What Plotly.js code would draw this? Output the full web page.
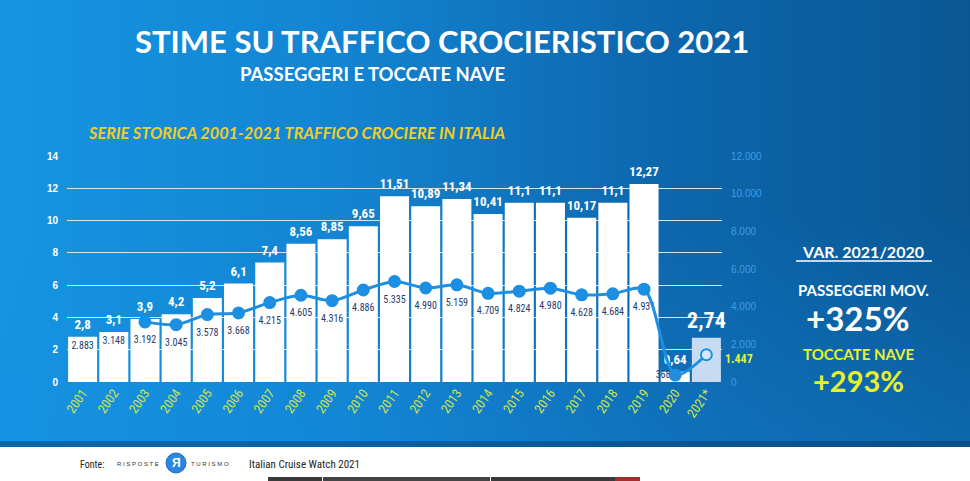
<!DOCTYPE html>
<html><head><meta charset="utf-8">
<script src="https://cdn.plot.ly/plotly-3.0.1.min.js"></script>
<style>
html,body{margin:0;padding:0;width:970px;height:481px;overflow:hidden;}
#chart{width:970px;height:481px;background:linear-gradient(to bottom,rgba(20,140,225,0) 45%,rgba(20,140,225,0.35) 100%),linear-gradient(to right,#1595e2 0%,#1384d2 35%,#0d67ad 68%,#0a5794 100%);}
</style></head>
<body><div id="chart"></div>
<script>
const years = ['2001','2002','2003','2004','2005','2006','2007','2008','2009','2010','2011','2012','2013','2014','2015','2016','2017','2018','2019','2020','2021*'];
const passengers = [2.8,3.1,3.9,4.2,5.2,6.1,7.4,8.56,8.85,9.65,11.51,10.89,11.34,10.41,11.1,11.1,10.17,11.1,12.27,0.64,2.74];
const ships = [2883,3148,3192,3045,3578,3668,4215,4605,4316,4886,5335,4990,5159,4709,4824,4980,4628,4684,4931,368,1447];
const leftTicks = [0,2,4,6,8,10,12,14];
const rightTicks = [0,2000,4000,6000,8000,10000,12000];

const L=67, R=722, T=156, B=382;
const px = x => (x-L)/(R-L);
const py = y => (B-y)/(B-T);
const n = years.length;
const NARROW = '"Liberation Sans Narrow","Arial Narrow","Roboto Condensed",Arial,sans-serif';
const HEAD = 'Lato,"Open Sans",sans-serif';
const lineBlue = '#1c8fe2';
const firstLine = 2; // line and markers visible from 2003 on (earlier part blends with the background)
const noLine = {width:0, color:'rgba(0,0,0,0)'};
const fmtThousands = v => String(v).replace(/\B(?=(\d{3})+(?!\d))/g, '.');

const barColors = years.map((y,i)=> i===n-1 ? '#c7dcf3' : '#ffffff');

const traces = [
  {type:'bar', x:years, y:passengers, marker:{color:barColors, line:{width:0}}, hoverinfo:'skip', yaxis:'y'},
  {type:'scatter', mode:'markers+text', x:years.slice(0,n-1), y:ships.slice(0,n-1), yaxis:'y2',
   texttemplate:'%{y:,}',
   textposition:years.slice(0,n-1).map((y,i)=> i===n-2 ? 'middle left' : 'bottom center'),
   marker:{size:years.slice(0,n-1).map((y,i)=> i===n-2 ? 6 : 20), color:'rgba(0,0,0,0)', line:noLine},
   textfont:{family:NARROW, size:10, color:'#27396b'}, cliponaxis:false, hoverinfo:'skip'},
  {type:'scatter', mode:'lines+markers', x:years.slice(firstLine), y:ships.slice(firstLine), yaxis:'y2', line:{shape:'spline', smoothing:0.8, color:lineBlue, width:3},
   marker:{size:11, color:years.slice(firstLine).map((y,i,a)=> i===a.length-1 ? '#d6e6f8' : lineBlue), line:{color:lineBlue, width:2}}, cliponaxis:false, hoverinfo:'skip'},
  {type:'scatter', mode:'markers+text', x:years, y:passengers, yaxis:'y', texttemplate:'%{y:.2~f}', textposition:'top center',
   marker:{size:6, color:'rgba(0,0,0,0)', line:noLine},
   textfont:{family:NARROW, size:years.map((y,i)=> i===n-1 ? 22 : 13), color:'#ffffff', weight:'bold'}, cliponaxis:false, hoverinfo:'skip'}
];

const ann = (x,y,text,size,color,extra={}) => Object.assign({xref:'paper', yref:'paper', x:px(x), y:py(y), text:text, showarrow:false,
  font:{family:HEAD, size:size, color:color, weight:'bold'}, xanchor:'center', yanchor:'middle'}, extra);

const layout = {
  width:970, height:481, margin:{l:L, r:970-R, t:T, b:481-B},
  paper_bgcolor:'rgba(0,0,0,0)', plot_bgcolor:'rgba(0,0,0,0)',
  separators:',.', showlegend:false, bargap:0.07,
  xaxis:{type:'category', range:[-0.5, n-0.5], tickangle:-55, tickfont:{family:NARROW, size:13, color:'#cfe44c'}, showgrid:false, zeroline:false, showline:false, ticks:''},
  yaxis:{range:[0,14], tickvals:leftTicks, gridcolor:'rgba(215,238,255,0.95)', gridwidth:1, zeroline:false, showline:false,
         tickfont:{family:'Arial,sans-serif', size:10, color:'#ffffff', weight:'bold'}, ticklabelstandoff:8},
  yaxis2:{range:[0,12000], tickvals:rightTicks, tickformat:',', overlaying:'y', side:'right', showgrid:false, zeroline:false, showline:false,
          tickfont:{family:'Arial,sans-serif', size:10, color:'#3c9ee6'}, ticklabelstandoff:8},
  shapes:[
    {type:'rect', xref:'paper', yref:'paper', x0:px(0), x1:px(970), y0:py(441), y1:py(447), line:{width:0}, fillcolor:'rgba(5,50,100,0.45)', layer:'below'},
    {type:'rect', xref:'paper', yref:'paper', x0:px(0), x1:px(970), y0:py(447), y1:py(482), line:{width:0}, fillcolor:'#ffffff'},
    {type:'line', xref:'paper', yref:'paper', x0:px(796), x1:px(932), y0:py(261), y1:py(261), line:{color:'#ffffff', width:1.5}},
    {type:'circle', xref:'paper', yref:'paper', x0:px(166), x1:px(186), y0:py(453), y1:py(473), line:{color:'#1b6fc4', width:1}, fillcolor:'#2a86de'},
    {type:'rect', xref:'paper', yref:'paper', x0:px(268), x1:px(322), y0:py(477), y1:py(482), line:{width:0}, fillcolor:'#3a3a3a'},
    {type:'rect', xref:'paper', yref:'paper', x0:px(323), x1:px(490), y0:py(477), y1:py(482), line:{width:0}, fillcolor:'#444444'},
    {type:'rect', xref:'paper', yref:'paper', x0:px(491), x1:px(615), y0:py(477), y1:py(482), line:{width:0}, fillcolor:'#3a3a3a'},
    {type:'rect', xref:'paper', yref:'paper', x0:px(615), x1:px(640), y0:py(477), y1:py(482), line:{width:0}, fillcolor:'#a0302c'}
  ],
  annotations:[
    {xref:'x', yref:'y2', x:years[n-1], y:ships[n-1], text:fmtThousands(ships[n-1]), showarrow:false, xanchor:'left', yanchor:'middle',
     xshift:17, yshift:-4, font:{family:NARROW, size:12, color:'#dff23a', weight:'bold'}},
    ann(442,41,'STIME SU TRAFFICO CROCIERISTICO 2021',31,'#ffffff'),
    ann(372,74,'PASSEGGERI E TOCCATE NAVE',18.5,'#ffffff'),
    ann(86,132,'<i>SERIE STORICA 2001-2021 TRAFFICO CROCIERE IN ITALIA</i>',16.3,'#f2cd1e',{xanchor:'left'}),
    ann(863,251,'VAR. 2021/2020',16,'#ffffff'),
    ann(863,290,'PASSEGGERI MOV.',15,'#ffffff'),
    ann(858,318,'+325%',33,'#ffffff'),
    ann(859,354,'TOCCATE NAVE',15,'#e6f22c'),
    ann(858,380,'+293%',29,'#e6f22c'),
    ann(78,464,'Fonte:',9,'#222222',{xanchor:'left', font:{family:NARROW, size:10, color:'#222222'}}),
    ann(115,464,'R I S P O S T E',6,'#333333',{xanchor:'left', font:{family:'Arial,sans-serif', size:6, color:'#333333'}}),
    ann(176,463,'Я',11,'#ffffff',{font:{family:'Arial,sans-serif', size:12, color:'#ffffff', weight:'bold'}}),
    ann(189,464,'T U R I S M O',6,'#333333',{xanchor:'left', font:{family:'Arial,sans-serif', size:6, color:'#333333'}}),
    ann(247,464,'Italian Cruise Watch 2021',10,'#222222',{xanchor:'left', font:{family:NARROW, size:11, color:'#222222'}})
  ]
};
Plotly.newPlot('chart', traces, layout, {staticPlot:true, displayModeBar:false});
</script></body></html>
